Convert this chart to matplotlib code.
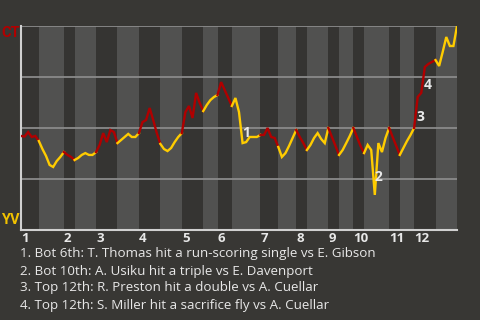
import matplotlib
matplotlib.use("Agg")
from matplotlib import pyplot as plt

# win probability for CT (percent) after each play, grouped by half-inning
start_wp = 46.1
halves = [
    ("T1", [45.8, 48.0, 45.6, 46.1, 43.6]),
    ("B1", [39.7, 36.3, 31.9, 30.9, 33.8, 35.8, 38.2]),
    ("T2", [36.8, 35.8, 34.3]),
    ("B2", [35.3, 36.8, 37.7, 36.8, 36.8, 38.2]),
    ("T3", [41.7, 47.5, 43.1, 49.0, 48.0, 42.6]),
    ("B3", [44.1, 45.6, 47.1, 45.6, 45.6, 47.5]),
    ("T4", [52.9, 53.9, 59.8, 53.9, 47.5, 42.2]),
    ("B4", [39.7, 38.7, 40.2, 43.1, 45.6, 47.5]),
    ("T5", [57.8, 60.8, 54.9, 67.2, 62.3, 58.3]),
    ("B5", [61.3, 63.7, 65.2, 66.2]),
    ("T6", [72.5, 68.6, 64.7, 60.8]),
    ("B6", [64.7, 57.8, 42.6, 43.1, 45.6, 45.6, 45.6, 46.6]),
    ("T7", [46.6, 50.0, 45.6, 45.1, 40.7]),
    ("B7", [35.8, 37.7, 41.2, 45.1, 49.0]),
    ("T8", [45.6, 42.6, 39.2]),
    ("B8", [41.7, 45.1, 47.5, 44.6, 42.6, 50.0]),
    ("T9", [45.6, 41.2, 36.8]),
    ("B9", [39.2, 42.6, 46.1, 50.0]),
    ("T10", [45.6, 41.2, 37.7]),
    ("B10", [41.7, 39.2, 17.2, 42.6, 38.2, 45.1, 50.0]),
    ("T11", [45.6, 41.2, 36.8]),
    ("B11", [40.2, 43.6, 46.6, 50.0]),
    ("T12", [65.2, 67.2, 79.9, 81.4, 82.4, 83.3]),
    ("B12", [80.4, 87.3, 94.6, 90.2, 90.2, 100.0]),
]

# key plays: (number, half-inning, play within half)
key_plays = [(1, "B6", 2), (2, "B10", 2), (3, "T12", 0), (4, "T12", 2)]
key_texts = [
    "1. Bot 6th: T. Thomas hit a run-scoring single vs E. Gibson",
    "2. Bot 10th: A. Usiku hit a triple vs E. Davenport",
    "3. Top 12th: R. Preston hit a double vs A. Cuellar",
    "4. Top 12th: S. Miller hit a sacrifice fly vs A. Cuellar",
]

away_team = "CT"
home_team = "YV"

bg = "#383734"
red = "#b00000"
yellow = "#ffcc00"

plt.rcParams['font.family'] = ['Open Sans', 'DejaVu Sans']

fig = plt.figure(figsize=(4.8, 3.2), dpi=100, facecolor=bg)
ax = fig.add_axes([21 / 480, 90 / 320, 436 / 480, 204 / 320])
ax.set_facecolor(bg)

# build x positions
pos = 0
prev_x, prev_y = 0, start_wp
inning_starts = []
half_pos = {}
for name, vals in halves:
    top = name.startswith("T")
    n = len(vals)
    ax.axvspan(pos, pos + n, color="#353432" if top else "#515150", lw=0, zorder=0)
    if top:
        inning_starts.append((pos, name[1:]))
    xs = [prev_x] + list(range(pos + 1, pos + n + 1))
    ys = [prev_y] + vals
    half_pos[name] = (pos, xs, ys)
    ax.plot(xs, ys, color=red if top else yellow, lw=1.7, zorder=3,
            solid_joinstyle="miter")
    prev_x, prev_y = xs[-1], ys[-1]
    pos += n

total = pos
for gy in [25, 50, 75, 100]:
    ax.axhline(gy, color="#8a8a8a", lw=1.3, zorder=1)

for num, half, k in key_plays:
    p, xs, ys = half_pos[half]
    xm = (xs[k] + xs[k + 1]) / 2
    ym = (ys[k] + ys[k + 1]) / 2
    ax.annotate(str(num), (xm, ym), xytext=(5, -5), textcoords="offset pixels",
                ha="center", va="center", color="#e8e8e8", fontsize=10,
                fontweight="bold", zorder=4)

ax.set_xlim(0, total)
ax.set_ylim(0, 100)
ax.set_yticks([])
ax.set_xticks([s for s, _ in inning_starts])
ax.set_xticklabels([lab for _, lab in inning_starts], color="#e8e8e8",
                   fontsize=9.5, fontweight="bold")
for t in ax.get_xticklabels():
    t.set_ha("left")
ax.tick_params(axis="x", length=0, pad=1.5)
for s in ["top", "right"]:
    ax.spines[s].set_visible(False)
for s in ["left", "bottom"]:
    ax.spines[s].set_color("#d0d0d0")
    ax.spines[s].set_linewidth(1.5)

fig.text(1 / 480, 1 - 33 / 320, away_team, color=red, fontsize=10.5,
         fontweight="bold", va="center", family=["Roboto", "DejaVu Sans"])
fig.text(1 / 480, 1 - 220 / 320, home_team, color="#f2c200", fontsize=10.5,
         fontweight="bold", va="center", family=["Roboto", "DejaVu Sans"])

for i, t in enumerate(key_texts):
    fig.text(20 / 480, 1 - (254 + 17 * i) / 320, t, color="#e8e8e8",
             fontsize=9.6, va="center")

fig.savefig("out.png", dpi=100, facecolor=bg)
